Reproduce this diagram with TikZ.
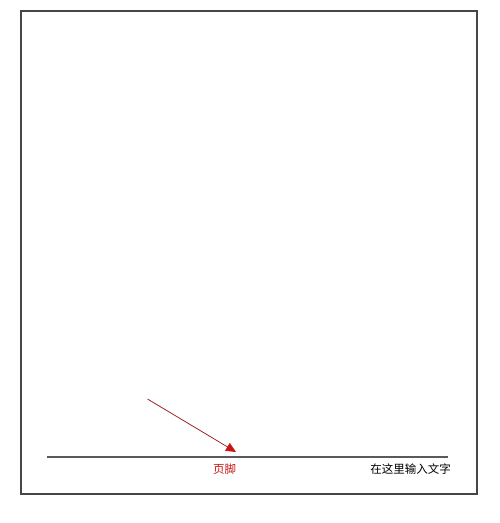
\documentclass[tikz,border=0pt]{standalone}
\usepackage{fontspec}
\usepackage{tikz}
\usetikzlibrary{arrows.meta, positioning}
\newfontfamily\cjk{Noto Sans CJK SC}
\definecolor{footred}{RGB}{200,20,20}
\definecolor{arrowline}{RGB}{150,40,40}
\definecolor{framegray}{RGB}{70,70,70}
\definecolor{rulegray}{RGB}{90,90,90}

\begin{document}
\begin{tikzpicture}
		[   x=1pt,y=-1pt,
		    label text/.style={inner sep=0pt,font=\cjk\fontsize{11.5}{12}\selectfont,text=#1},
		]
		\tikzset{normal arrow/.style={draw=arrowline,line width=0.8pt,-{Triangle[length=10pt,width=9pt,color=footred]}}}
		\useasboundingbox (0,0) rectangle (500,523);
		
		% frame of the page
		\draw[framegray,line width=1.8pt] (21,11) rectangle (477,494);
		
		\coordinate (r-1) at (47,457);
		\coordinate (r-2) at (448,457);
		\draw[rulegray,line width=1.6pt] (r-1) -- (r-2);
		
		\node[label text=footred] (foot) at (224.5,469.5) {页脚};
		\node[label text=black] (input) at (410.5,469.5) {在这里输入文字};
		
		\coordinate (a-1) at (147.5,399);
		\coordinate (a-2) at (236,452);
		\path[normal arrow] (a-1) -- (a-2);
		
\end{tikzpicture}
\end{document}
